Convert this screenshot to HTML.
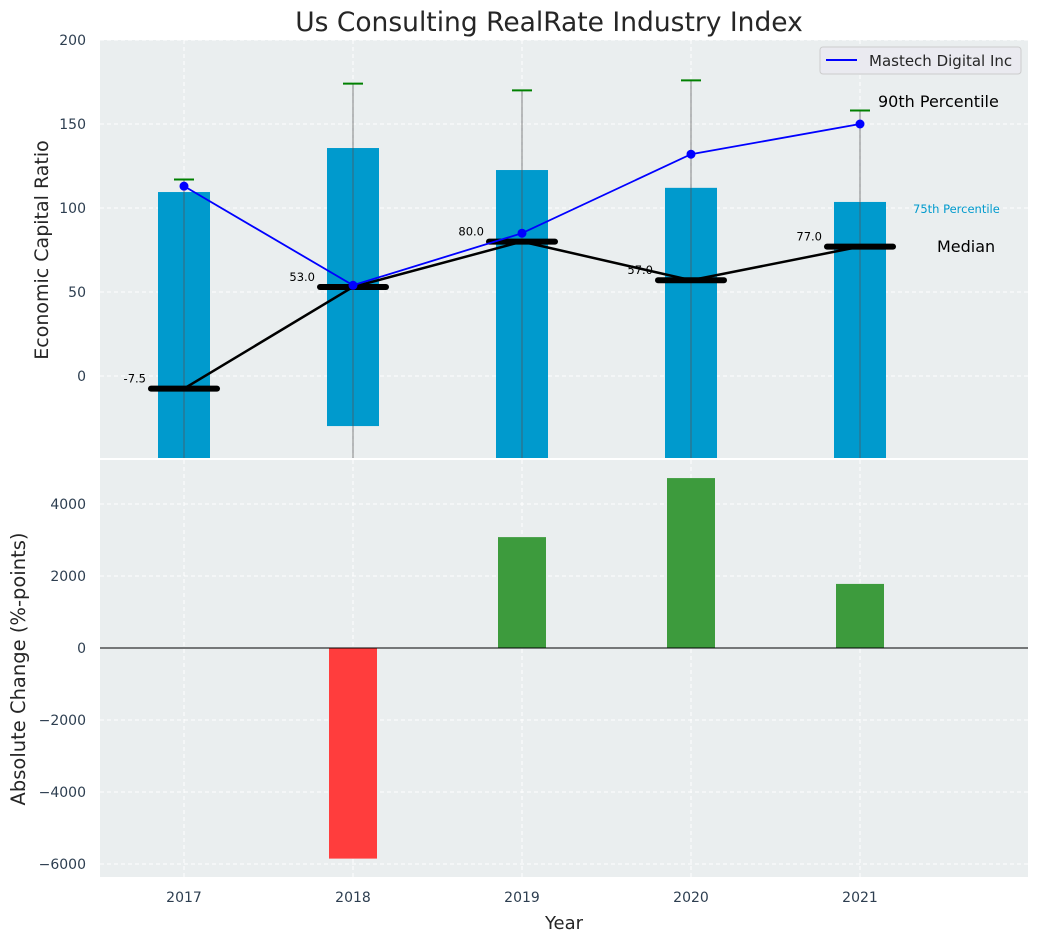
<!DOCTYPE html>
<html><head><meta charset="utf-8"><style>
body{margin:0;background:#fff;font-family:"Liberation Sans","DejaVu Sans",sans-serif}
svg text{font-family:"DejaVu Sans","Liberation Sans",sans-serif}
</style></head><body>
<svg id="c" width="1039" height="942" viewBox="0 0 1039 942" xmlns="http://www.w3.org/2000/svg"></svg>
<script>
const years=[2017,2018,2019,2020,2021];
const p75=[109.5,135.7,122.6,112,103.6];
const p25=[-60,-29.8,-60,-60,-60];
const p90=[117,174,170,176,158];
const medians=[-7.5,53,80,57,77];
const company=[113,54,85,132,150];
const changes=[0,-5850,3080,4720,1780];
const topTicks=[0,50,100,150,200];
const botTicks=[-6000,-4000,-2000,0,2000,4000];

const NS='http://www.w3.org/2000/svg';
const svg=document.getElementById('c');
function el(t,a,txt){const e=document.createElementNS(NS,t);for(const k in a)e.setAttribute(k,a[k]);if(txt!==undefined)e.textContent=txt;svg.appendChild(e);return e;}
const L=100,R=1028;
const x=v=>184+(v-2017)*169;
const yT=v=>376-v*1.68;
const yB=v=>648-v*0.036;
const T0=40,T1=458,B0=460,B1=877;

let e;
e=el('rect',{x:L,y:T0,width:R-L,height:T1-T0,fill:'#eaeeef'});

e=el('rect',{x:L,y:B0,width:R-L,height:B1-B0,fill:'#eaeeef'});

years.forEach(v=>{el('line',{x1:x(v),x2:x(v),y1:T0,y2:T1,stroke:'#fff','stroke-dasharray':'4,3'});el('line',{x1:x(v),x2:x(v),y1:B0,y2:B1,stroke:'#fff','stroke-dasharray':'4,3'});});
topTicks.forEach(v=>{el('line',{x1:L,x2:R,y1:yT(v),y2:yT(v),stroke:'#fff','stroke-dasharray':'4,3'});
 e=el('text',{x:L-14,y:yT(v)+5,'text-anchor':'end','font-size':14,fill:'#2d3e50'},String(v));
 });
botTicks.forEach(v=>{el('line',{x1:L,x2:R,y1:yB(v),y2:yB(v),stroke:'#fff','stroke-dasharray':'4,3'});
 e=el('text',{x:L-14,y:yB(v)+5,'text-anchor':'end','font-size':14,fill:'#2d3e50'},String(v).replace('-','\u2212'));
 });
const clipT=v=>Math.min(Math.max(v,T0),T1);
years.forEach((yr,i)=>{
 const y1=clipT(yT(p75[i])),y2=clipT(yT(p25[i]));
 e=el('rect',{x:x(yr)-26,y:y1,width:52,height:y2-y1,fill:'#009ACD'});
 
 e=el('line',{x1:x(yr),x2:x(yr),y1:yT(p90[i]),y2:T1,stroke:'#555','stroke-opacity':0.6,'stroke-width':1.2});
 
 e=el('line',{x1:x(yr)-10,x2:x(yr)+10,y1:yT(p90[i]),y2:yT(p90[i]),stroke:'green','stroke-width':2});
 
});
e=el('polyline',{points:years.map((yr,i)=>x(yr)+','+yT(medians[i])).join(' '),fill:'none',stroke:'#000','stroke-width':2.5});

years.forEach((yr,i)=>{
 e=el('line',{x1:x(yr)-33,x2:x(yr)+33,y1:yT(medians[i]),y2:yT(medians[i]),stroke:'#000','stroke-width':6,'stroke-linecap':'round'});
 
 e=el('text',{x:x(yr)-38,y:yT(medians[i])-6,'text-anchor':'end','font-size':11.5,fill:'#000'},medians[i].toFixed(1));
 
});
e=el('polyline',{points:years.map((yr,i)=>x(yr)+','+yT(company[i])).join(' '),fill:'none',stroke:'#0000ff','stroke-width':1.8});

years.forEach((yr,i)=>{e=el('circle',{cx:x(yr),cy:yT(company[i]),r:4.5,fill:'#0000ff'});
 });
e=el('text',{x:878,y:107,'font-size':16,fill:'#000'},'90th Percentile');
e=el('text',{x:913,y:213,'font-size':11.5,fill:'#009ACD'},'75th Percentile');
e=el('text',{x:937,y:252,'font-size':16,fill:'#000'},'Median');
e=el('rect',{x:820,y:47,width:201,height:27,rx:3,fill:'#eaeaf0',stroke:'#ccc'});
el('line',{x1:826,x2:857,y1:60,y2:60,stroke:'#0000ff','stroke-width':2});
e=el('text',{x:869,y:66,'font-size':15,fill:'#262626'},'Mastech Digital Inc');
years.forEach((yr,i)=>{const v=changes[i];if(!v)return;
 const y1=Math.min(yB(v),yB(0)),h=Math.abs(yB(v)-yB(0));
 e=el('rect',{x:x(yr)-24,y:y1,width:48,height:h,fill:v<0?'#ff3d3d':'#3d9b3d'});
 });
e=el('line',{x1:L,x2:R,y1:yB(0),y2:yB(0),stroke:'#000','stroke-width':1});
years.forEach(yr=>{e=el('text',{x:x(yr),y:902,'text-anchor':'middle','font-size':14,fill:'#2d3e50'},String(yr));
 });
e=el('text',{x:549,y:31,'text-anchor':'middle','font-size':26.5,fill:'#262626'},'Us Consulting RealRate Industry Index');
e=el('text',{x:564,y:929,'text-anchor':'middle','font-size':18,fill:'#262626'},'Year');
e=el('text',{x:48,y:250,'text-anchor':'middle','font-size':19,fill:'#262626',transform:'rotate(-90 48 250)'},'Economic Capital Ratio');
e=el('text',{x:25,y:669,'text-anchor':'middle','font-size':19.5,fill:'#262626',transform:'rotate(-90 25 669)'},'Absolute Change (%-points)');
</script>
</body></html>
